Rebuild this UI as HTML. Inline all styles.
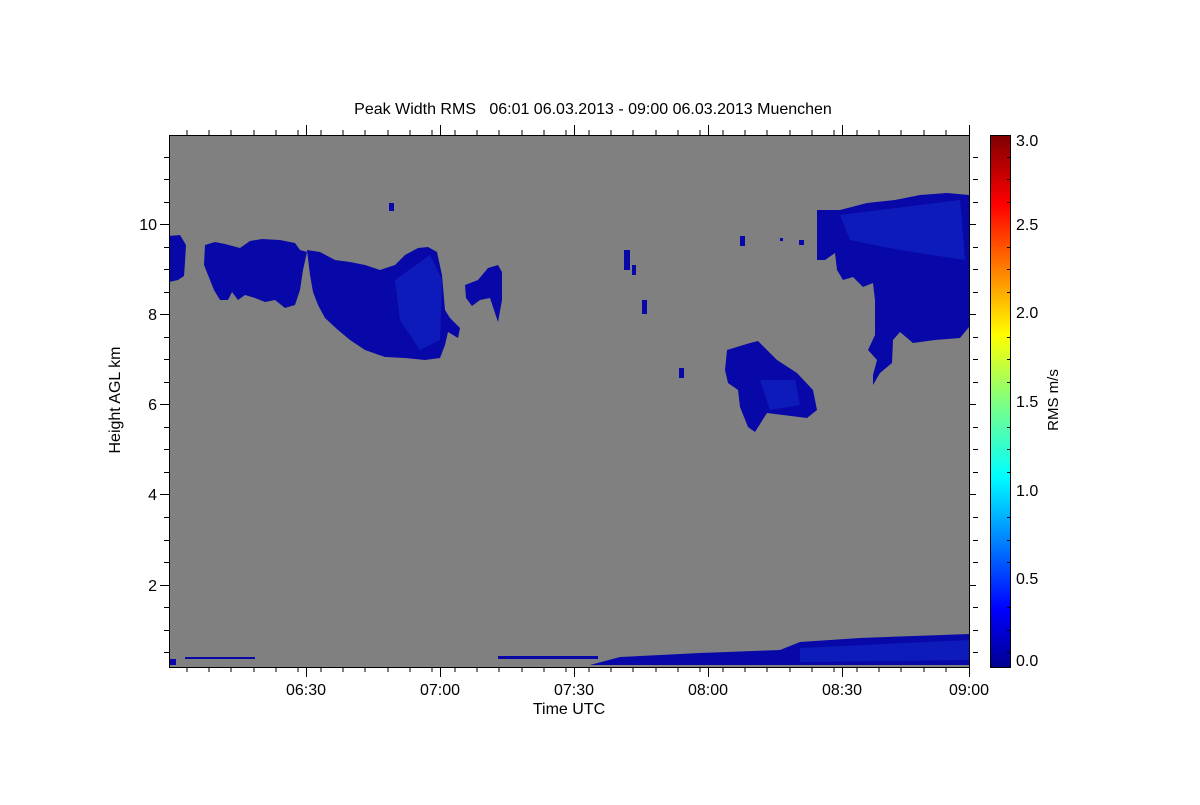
<!DOCTYPE html>
<html><head><meta charset="utf-8"><style>
body{margin:0;background:#fff}
svg text{font-family:"Liberation Sans",sans-serif;fill:#000;white-space:pre}
</style></head><body>
<svg width="1200" height="800" xmlns="http://www.w3.org/2000/svg">
<defs>
<linearGradient id="jet" x1="0" y1="1" x2="0" y2="0">
<stop offset="0" stop-color="#00008f"/>
<stop offset="0.11" stop-color="#0000ff"/>
<stop offset="0.36" stop-color="#00ffff"/>
<stop offset="0.5" stop-color="#80ff80"/>
<stop offset="0.625" stop-color="#ffff00"/>
<stop offset="0.87" stop-color="#ff0000"/>
<stop offset="1" stop-color="#800000"/>
</linearGradient>
</defs>
<rect x="169" y="135" width="800" height="532" fill="#808080"/>
<g fill="#0808a8">
<path d="M169,236 L180,235 L186,245 L185,262 L184,276 L178,280 L169,282 Z"/>
<path d="M205,245 L215,242 L225,244 L240,248 L250,241 L262,239 L280,240 L295,243 L300,250 L307,252 L303,270 L300,290 L295,305 L285,308 L275,300 L265,302 L255,298 L245,295 L238,300 L232,292 L228,300 L220,300 L214,290 L208,275 L204,265 Z"/>
<path d="M307,250 L320,252 L335,260 L350,262 L365,265 L380,270 L395,265 L405,255 L418,248 L428,247 L437,252 L442,275 L445,310 L450,318 L460,328 L458,338 L448,332 L445,345 L440,358 L425,360 L405,358 L385,357 L365,350 L350,340 L338,330 L325,318 L318,305 L313,292 L310,275 Z"/>
<path d="M465,285 L478,280 L488,268 L498,265 L502,272 L502,300 L498,322 L494,310 L490,298 L480,300 L472,306 L466,298 Z"/>
<path d="M817,210 L840,210 L867,203 L895,200 L920,195 L947,193 L969,195 L969,327 L960,338 L935,340 L913,343 L900,332 L893,340 L892,363 L880,373 L873,385 L873,375 L877,360 L868,350 L875,335 L875,300 L873,283 L863,287 L853,277 L843,280 L837,270 L835,253 L825,260 L817,260 Z"/>
<path d="M727,350 L750,343 L758,341 L777,360 L797,373 L813,390 L817,410 L807,418 L783,415 L767,413 L755,432 L748,427 L740,407 L738,390 L728,383 L725,370 Z"/>
<rect x="740" y="236" width="5" height="10"/>
<rect x="389" y="203" width="5" height="8"/>
<rect x="624" y="250" width="6" height="20"/>
<rect x="632" y="265" width="4" height="10"/>
<rect x="642" y="300" width="5" height="14"/>
<rect x="679" y="368" width="5" height="10"/>
<rect x="780" y="238" width="3" height="3"/>
<rect x="799" y="240" width="5" height="5"/>
<rect x="170" y="659" width="6" height="6"/>
<rect x="185" y="657" width="70" height="2"/>
<rect x="498" y="656" width="100" height="3"/>
<path d="M590,665 L620,657 L700,653 L780,650 L800,642 L860,638 L969,634 L969,665 Z"/>
</g>
<g fill="#1a40e0" opacity="0.35">
<path d="M395,280 L430,255 L442,280 L440,340 L420,350 L400,320 Z"/>
<path d="M840,215 L960,200 L965,260 L900,250 L850,240 Z"/>
<path d="M760,380 L795,380 L800,405 L770,410 Z"/>
<path d="M800,648 L969,640 L969,660 L800,662 Z"/>
</g>
<g stroke="#000" stroke-width="1" fill="none">
<rect x="169.5" y="135.5" width="800" height="532"/>
<path d="M160,224.5H169M160,314.5H169M160,404.5H169M160,494.5H169M160,585.5H169M969,224.5H976M969,314.5H976M969,404.5H976M969,494.5H976M969,585.5H976"/>
<path id="ym" d="M164,157.5H169M164,179.5H169M164,202.5H169M164,247.5H169M164,269.5H169M164,292.5H169M164,337.5H169M164,359.5H169M164,382.5H169M164,427.5H169M164,449.5H169M164,472.5H169M164,517.5H169M164,540.5H169M164,562.5H169M164,607.5H169M164,630.5H169M164,652.5H169"/>
<use href="#ym" transform="translate(809,0)"/>
<path d="M306.5,667V677M440.5,667V677M574.5,667V677M708.5,667V677M842.5,667V677M969.5,667V677M306.5,135V125M440.5,135V125M574.5,135V125M708.5,135V125M842.5,135V125M969.5,135V125"/>
<path d="M187,667v5M209,667v5M231,667v5M254,667v5M276,667v5M298,667v5M321,667v5M343,667v5M365,667v5M388,667v5M410,667v5M432,667v5M455,667v5M477,667v5M499,667v5M522,667v5M544,667v5M566,667v5M589,667v5M611,667v5M633,667v5M656,667v5M678,667v5M700,667v5M723,667v5M745,667v5M767,667v5M790,667v5M812,667v5M834,667v5M857,667v5M879,667v5M901,667v5M924,667v5M946,667v5"/>
<path d="M187,135v-5M209,135v-5M231,135v-5M254,135v-5M276,135v-5M298,135v-5M321,135v-5M343,135v-5M365,135v-5M388,135v-5M410,135v-5M432,135v-5M455,135v-5M477,135v-5M499,135v-5M522,135v-5M544,135v-5M566,135v-5M589,135v-5M611,135v-5M633,135v-5M656,135v-5M678,135v-5M700,135v-5M723,135v-5M745,135v-5M767,135v-5M790,135v-5M812,135v-5M834,135v-5M857,135v-5M879,135v-5M901,135v-5M924,135v-5M946,135v-5"/>
</g>
<rect x="990.5" y="135.5" width="20" height="532" fill="url(#jet)" stroke="#000"/>
<g stroke="#000" stroke-width="1">
<path d="M1007,157.5h3M1007,179.5h3M1007,202.5h3M1007,247.5h3M1007,269.5h3M1007,292.5h3M1007,337.5h3M1007,359.5h3M1007,382.5h3M1007,427.5h3M1007,449.5h3M1007,472.5h3M1007,517.5h3M1007,540.5h3M1007,562.5h3M1007,607.5h3M1007,630.5h3M1007,652.5h3"/>
</g>
<g font-size="16" text-anchor="end">
<text x="157" y="230">10</text><text x="157" y="320">8</text><text x="157" y="410">6</text><text x="157" y="500">4</text><text x="157" y="591">2</text>
</g>
<g font-size="16" text-anchor="middle">
<text x="306" y="695">06:30</text><text x="440" y="695">07:00</text><text x="574" y="695">07:30</text><text x="708" y="695">08:00</text><text x="842" y="695">08:30</text><text x="969" y="695">09:00</text>
<text x="569" y="714">Time UTC</text>
<text x="593" y="114">Peak Width RMS   06:01 06.03.2013 - 09:00 06.03.2013 Muenchen</text>
<text transform="translate(120,400) rotate(-90)">Height AGL km</text>
<text transform="translate(1058,400) rotate(-90)" font-size="15">RMS m/s</text>
</g>
<g font-size="16">
<text x="1016" y="146">3.0</text><text x="1016" y="230">2.5</text><text x="1016" y="318">2.0</text><text x="1016" y="407">1.5</text><text x="1016" y="496">1.0</text><text x="1016" y="584">0.5</text><text x="1016" y="666">0.0</text>
</g>
</svg>
</body></html>
